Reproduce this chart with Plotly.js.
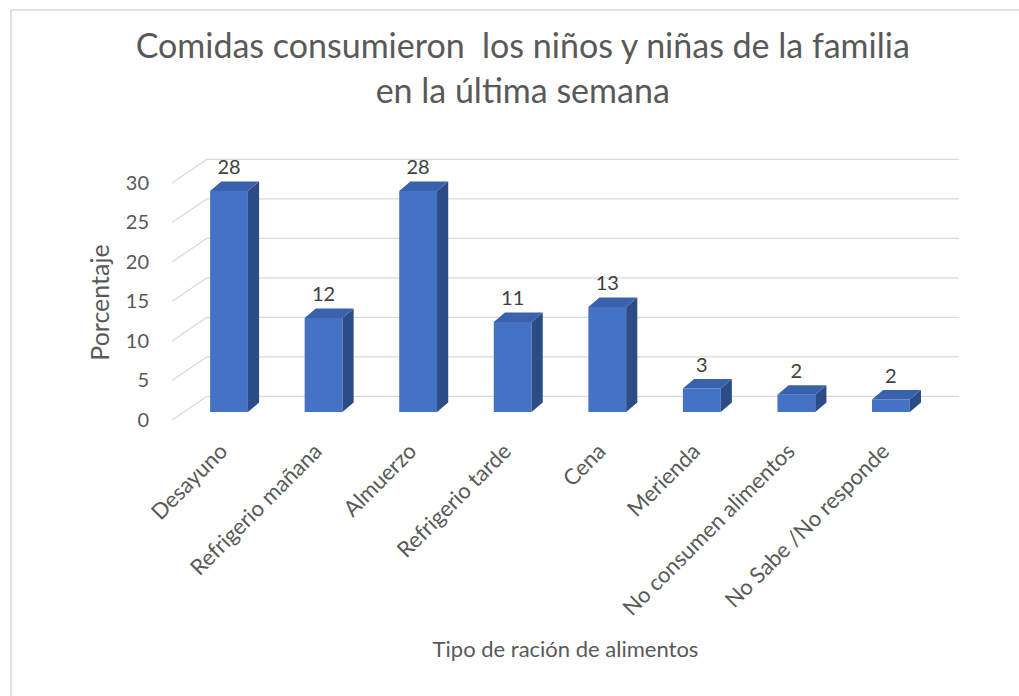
<!DOCTYPE html>
<html>
<head>
<meta charset="utf-8">
<script src="https://cdn.plot.ly/plotly-3.0.1.min.js"></script>
<style>html,body{margin:0;padding:0;background:#fff;}#chart{width:1019px;height:696px;}</style>
</head>
<body>
<div id="chart"></div>
<script>
// ---- data ----
const categories = ["Desayuno", "Refrigerio mañana", "Almuerzo", "Refrigerio tarde", "Cena", "Merienda", "No consumen alimentos", "No Sabe /No responde"];
const values = [28.0, 11.9, 28.0, 11.4, 13.3, 3.0, 2.2, 1.6];
const labels = ["28", "12", "28", "11", "13", "3", "2", "2"];
const yTicks = [0, 5, 10, 15, 20, 25, 30];

// ---- 3D styling constants ----
const BASE = 1.0;
const BW = 0.40;
const DX = 0.118;
const DY = 1.2;
const WALL = 3.0;
const XF = -0.603, XB = -0.233, XR = 7.72;
const YMIN = -5.696, YMAX = 35.44;

const idx = categories.map((c, i) => i);

const sideX = [], sideY = [], topX = [], topY = [];
idx.forEach((i) => {
  const v = values[i];
  const l = i - BW / 2, r = i + BW / 2, t = BASE + v;
  sideX.push(r, r + DX, r + DX, r, r, null);
  sideY.push(BASE, BASE + DY, t + DY, t, BASE, null);
  topX.push(l, r, r + DX, l + DX, l, null);
  topY.push(t, t, t + DY, t + DY, t, null);
});

const traces = [
  { type: "bar", x: idx, y: values, base: BASE, width: BW,
    marker: { color: "#4472C4", line: { width: 0 } }, hoverinfo: "skip", showlegend: false },
  { type: "scatter", mode: "lines", x: sideX, y: sideY, fill: "toself",
    fillcolor: "#2C4C86", line: { width: 0, color: "#2C4C86" }, hoverinfo: "skip", showlegend: false },
  { type: "scatter", mode: "lines", x: topX, y: topY, fill: "toself",
    fillcolor: "#3A62AC", line: { width: 0, color: "#3A62AC" }, hoverinfo: "skip", showlegend: false },
  { type: "scatter", mode: "text", x: idx, y: values.map(v => BASE + v + DY + 0.3),
    text: labels, textposition: "top center",
    textfont: { family: "Lato, sans-serif", size: 20, color: "#404040" },
    hoverinfo: "skip", showlegend: false, cliponaxis: false }
];

const shapes = [];
yTicks.forEach((v) => {
  shapes.push({ type: "line", xref: "x", yref: "y", x0: XF, y0: v, x1: XB, y1: v + WALL,
    line: { color: "#D9D9D9", width: 1.3 }, layer: "below" });
  shapes.push({ type: "line", xref: "x", yref: "y", x0: XB, y0: v + WALL, x1: XR, y1: v + WALL,
    line: { color: "#D9D9D9", width: 1.3 }, layer: "below" });
});
shapes.push({ type: "rect", xref: "paper", yref: "paper", x0: -0.2046, y0: -0.754, x1: 1.09, y1: 1.4,
  line: { color: "#D9D9D9", width: 1.5 }, fillcolor: "rgba(0,0,0,0)", layer: "below" });

const layout = {
  width: 1019, height: 696,
  margin: { l: 172, r: 60, t: 140, b: 231 },
  paper_bgcolor: "#ffffff", plot_bgcolor: "#ffffff",
  font: { family: "Lato, sans-serif", color: "#595959" },
  title: { text: "Comidas consumieron  los niños y niñas de la familia<br>en la última semana",
    font: { family: "Lato, sans-serif", size: 34, color: "#595959" },
    xref: "container", x: 0.513, xanchor: "center", yref: "container", y: 0.916, yanchor: "middle" },
  xaxis: { type: "linear", range: [XF, XR], tickvals: idx, ticktext: categories, tickangle: -45,
    anchor: "free", position: 0.1385,
    showgrid: false, zeroline: false, showline: false, ticks: "", fixedrange: true,
    tickfont: { family: "Lato, sans-serif", size: 22, color: "#595959" },
    ticklabelstandoff: 13, ticklabelshift: -8, automargin: false,
    title: { text: "Tipo de ración de alimentos", font: { family: "Lato, sans-serif", size: 22, color: "#595959" }, standoff: 22 } },
  yaxis: { range: [YMIN, YMAX], tickvals: yTicks, ticktext: yTicks.map(String),
    showgrid: false, zeroline: false, showline: false, ticks: "", fixedrange: true,
    tickfont: { family: "Lato, sans-serif", size: 20, color: "#595959" }, ticklabelstandoff: 22,
    automargin: false,
    title: { text: "Porcentaje", font: { family: "Lato, sans-serif", size: 25, color: "#595959" }, standoff: 9 } },
  shapes: shapes,
  showlegend: false
};

Plotly.newPlot("chart", traces, layout, { displayModeBar: false, staticPlot: true });
</script>
</body>
</html>
